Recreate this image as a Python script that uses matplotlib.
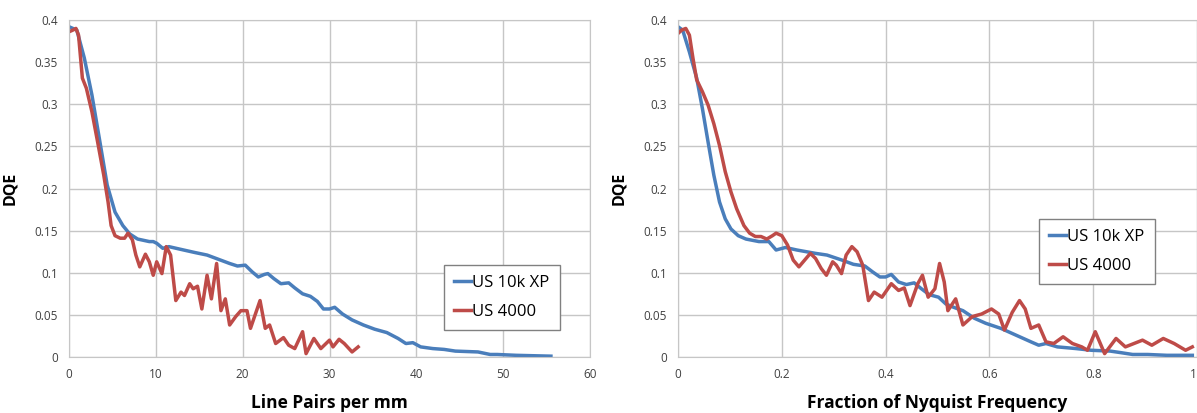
import matplotlib
matplotlib.use("Agg")
import matplotlib.pyplot as plt

# Left panel: DQE vs line pairs per mm
lp_10k = [0, 0.9, 1.76, 2.64, 3.5, 4.4, 5.3, 6.2, 7.0, 7.9, 9.25, 9.7, 10.1, 10.8, 11.5,
          13.2, 14.5, 15.9, 17.2, 18.5, 19.4, 20.3, 21.1, 21.8, 22.5, 22.9, 23.6, 24.4,
          25.3, 26.0, 26.9, 27.8, 28.6, 29.3, 30.0, 30.6, 31.5, 32.6, 33.9, 35.2, 36.6,
          37.9, 38.8, 39.6, 40.5, 41.9, 43.2, 44.5, 47.1, 48.5, 49.3, 51.5, 55.5]
dqe_10k = [0.392, 0.388, 0.355, 0.311, 0.259, 0.204, 0.172, 0.156, 0.146, 0.140, 0.137,
           0.137, 0.135, 0.129, 0.131, 0.127, 0.124, 0.121, 0.116, 0.111, 0.108, 0.109,
           0.101, 0.095, 0.098, 0.099, 0.093, 0.087, 0.088, 0.082, 0.075, 0.072, 0.066,
           0.057, 0.057, 0.059, 0.051, 0.044, 0.038, 0.033, 0.029, 0.022, 0.016, 0.017,
           0.012, 0.010, 0.009, 0.007, 0.006, 0.003, 0.003, 0.002, 0.001]

lp_4000 = [0, 0.44, 0.8, 1.1, 1.54, 2.0, 2.64, 3.3, 4.0, 4.5, 4.85, 5.3, 5.9, 6.4, 6.8,
           7.3, 7.7, 8.15, 8.8, 9.25, 9.7, 10.1, 10.7, 11.2, 11.7, 12.3, 12.9, 13.3, 13.9,
           14.3, 14.8, 15.3, 15.9, 16.4, 17.0, 17.5, 18.0, 18.5, 19.2, 19.8, 20.5, 20.9,
           21.6, 22.0, 22.6, 23.1, 23.8, 24.7, 25.3, 26.0, 26.9, 27.3, 28.2, 29.0, 30.0,
           30.4, 31.1, 31.7, 32.6, 33.3]
dqe_4000 = [0.386, 0.388, 0.390, 0.382, 0.331, 0.319, 0.291, 0.255, 0.216, 0.184, 0.156,
            0.144, 0.141, 0.141, 0.147, 0.139, 0.121, 0.107, 0.122, 0.113, 0.097, 0.113,
            0.099, 0.131, 0.121, 0.067, 0.077, 0.073, 0.087, 0.081, 0.084, 0.057, 0.097,
            0.069, 0.111, 0.055, 0.069, 0.038, 0.048, 0.055, 0.055, 0.034, 0.055, 0.067,
            0.034, 0.038, 0.016, 0.023, 0.014, 0.010, 0.030, 0.004, 0.022, 0.010, 0.020,
            0.012, 0.021, 0.016, 0.006, 0.012]

# Right panel: DQE vs fraction of Nyquist
nq_10k = [0, 0.009, 0.022, 0.036, 0.047, 0.058, 0.069, 0.080, 0.091, 0.102, 0.116, 0.131,
          0.156, 0.175, 0.189, 0.207, 0.229, 0.265, 0.287, 0.316, 0.338, 0.36, 0.375,
          0.389, 0.4, 0.411, 0.425, 0.44, 0.455, 0.469, 0.484, 0.502, 0.516, 0.531, 0.549,
          0.571, 0.593, 0.622, 0.651, 0.68, 0.695, 0.709, 0.731, 0.767, 0.796, 0.833,
          0.855, 0.876, 0.905, 0.942, 0.991]
nq_dqe_10k = [0.392, 0.388, 0.362, 0.331, 0.295, 0.255, 0.216, 0.184, 0.164, 0.152, 0.144,
              0.140, 0.137, 0.137, 0.127, 0.130, 0.127, 0.123, 0.121, 0.115, 0.110, 0.108,
              0.101, 0.095, 0.095, 0.098, 0.089, 0.086, 0.088, 0.081, 0.074, 0.071, 0.063,
              0.059, 0.055, 0.046, 0.040, 0.034, 0.026, 0.018, 0.014, 0.016, 0.012, 0.010,
              0.008, 0.007, 0.005, 0.003, 0.003, 0.002, 0.002]

nq_4000 = [0, 0.007, 0.015, 0.022, 0.029, 0.036, 0.047, 0.058, 0.069, 0.080, 0.091, 0.102,
           0.113, 0.127, 0.138, 0.149, 0.16, 0.171, 0.182, 0.189, 0.2, 0.211, 0.222, 0.233,
           0.244, 0.255, 0.265, 0.276, 0.286, 0.298, 0.305, 0.315, 0.324, 0.335, 0.345,
           0.356, 0.367, 0.378, 0.393, 0.411, 0.425, 0.436, 0.447, 0.462, 0.471, 0.482,
           0.495, 0.504, 0.513, 0.52, 0.535, 0.549, 0.567, 0.585, 0.604, 0.618, 0.629,
           0.644, 0.658, 0.669, 0.68, 0.695, 0.709, 0.724, 0.742, 0.76, 0.778, 0.789,
           0.804, 0.822, 0.844, 0.862, 0.895, 0.913, 0.935, 0.956, 0.978, 0.991]
nq_dqe_4000 = [0.384, 0.388, 0.390, 0.382, 0.354, 0.329, 0.315, 0.299, 0.277, 0.251, 0.220,
               0.196, 0.176, 0.156, 0.147, 0.143, 0.143, 0.140, 0.144, 0.147, 0.144, 0.133,
               0.115, 0.107, 0.115, 0.123, 0.117, 0.105, 0.097, 0.113, 0.109, 0.099, 0.121,
               0.131, 0.125, 0.109, 0.067, 0.077, 0.071, 0.087, 0.079, 0.082, 0.061, 0.087,
               0.097, 0.071, 0.081, 0.111, 0.089, 0.055, 0.069, 0.038, 0.048, 0.051, 0.057,
               0.051, 0.032, 0.053, 0.067, 0.057, 0.034, 0.038, 0.018, 0.016, 0.024, 0.016,
               0.012, 0.008, 0.030, 0.004, 0.022, 0.012, 0.020, 0.014, 0.022, 0.016, 0.008,
               0.012]

labels = ["US 10k XP", "US 4000"]
blue = "#4a7ebb"
red = "#be4b48"

plt.rcParams["font.family"] = ["Open Sans", "DejaVu Sans"]

fig = plt.figure(figsize=(11.97, 4.13), dpi=100)
ax1 = fig.add_axes([69 / 1197, 1 - 357 / 413, 521 / 1197, 337 / 413])
ax2 = fig.add_axes([678 / 1197, 1 - 357 / 413, 519 / 1197, 337 / 413])


def style(ax, xlim, xticks, xticklabels, xlabel):
    ax.set_xlim(*xlim)
    ax.set_ylim(0, 0.4)
    ax.set_xticks(xticks)
    ax.set_xticklabels(xticklabels)
    ax.set_yticks([0, 0.05, 0.1, 0.15, 0.2, 0.25, 0.3, 0.35, 0.4])
    ax.set_yticklabels(["0", "0.05", "0.1", "0.15", "0.2", "0.25", "0.3", "0.35", "0.4"])
    ax.grid(True, color="#c6c6c6", linewidth=1.0)
    ax.set_axisbelow(True)
    for s in ax.spines.values():
        s.set_color("#c6c6c6")
    ax.tick_params(length=0, labelsize=8.5, labelcolor="#404040", pad=8)
    ax.set_ylabel("DQE", fontsize=11.5, fontweight="bold", labelpad=12)
    ax.set_xlabel(xlabel, fontsize=12.5, fontweight="bold", labelpad=9)


ax1.plot(lp_10k, dqe_10k, color=blue, lw=2.5, label=labels[0], solid_joinstyle="round")
ax1.plot(lp_4000, dqe_4000, color=red, lw=2.5, label=labels[1], solid_joinstyle="round")
style(ax1, (0, 60), [0, 10, 20, 30, 40, 50, 60],
      ["0", "10", "20", "30", "40", "50", "60"], "Line Pairs per mm")

ax2.plot(nq_10k, nq_dqe_10k, color=blue, lw=2.5, label=labels[0], solid_joinstyle="round")
ax2.plot(nq_4000, nq_dqe_4000, color=red, lw=2.5, label=labels[1], solid_joinstyle="round")
style(ax2, (0, 1), [0, 0.2, 0.4, 0.6, 0.8, 1.0],
      ["0", "0.2", "0.4", "0.6", "0.8", "1"], "Fraction of Nyquist Frequency")
# keep the last tick label inside the figure
ax2.get_xticklabels()[-1].set_horizontalalignment("right")

for ax, anchor in [(ax1, (0.72, 0.273)), (ax2, (0.6955, 0.4095))]:
    leg = ax.legend(loc="upper left", bbox_to_anchor=anchor, borderaxespad=0,
                    fontsize=12, handlelength=1.0, handletextpad=0.1,
                    labelspacing=0.8, fancybox=False, framealpha=1,
                    borderpad=0.6)
    leg.get_frame().set_edgecolor("#808080")
    leg.get_frame().set_linewidth(1.0)

fig.savefig("out.png", dpi=100)
